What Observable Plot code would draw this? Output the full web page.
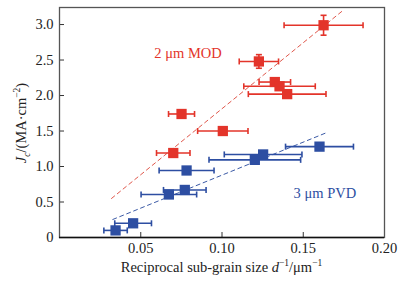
<!DOCTYPE html>
<html><head><meta charset="utf-8">
<script src="https://cdn.jsdelivr.net/npm/d3@7"></script>
<script src="https://cdn.jsdelivr.net/npm/@observablehq/plot@0.6"></script>
<style>body{margin:0;background:#fff;} svg{display:block;}</style>
</head><body><div id="chart"></div>
<script>
// 2 μm MOD (red)
const modX    = [0.1625, 0.1227, 0.1325, 0.1354, 0.1401, 0.1005, 0.0751, 0.0700];
const modY    = [2.99,   2.48,   2.19,   2.13,   2.02,   1.50,   1.74,   1.19];
const modXErr = [0.0243, 0.0121, 0.0097, 0.0220, 0.0239, 0.0155, 0.0080, 0.0103];
const modYErr = [0.14,   0.096,  0,      0,      0,      0,      0,      0];
// 3 μm PVD (blue)
const pvdX    = [0.0345, 0.0453, 0.0673, 0.0771, 0.0782, 0.1202, 0.1253, 0.1600];
const pvdY    = [0.10,   0.20,   0.606,  0.67,   0.944,  1.094,  1.17,   1.28];
const pvdXErr = [0.0072, 0.0113, 0.0171, 0.0131, 0.0169, 0.0282, 0.0239, 0.0209];
// dashed trend lines
const modFitX = [0.032, 0.174];
const modFitY = [0.55, 3.19];
const pvdFitX = [0.0328, 0.1647];
const pvdFitY = [0.254, 1.48];
// ticks
const xTicks = [0.05, 0.10, 0.15, 0.20];
const yTicks = [0, 0.5, 1.0, 1.5, 2.0, 2.5, 3.0];
// annotations
const seriesLabels = ["2 μm MOD", "3 μm PVD"];
const labelX = [0.0791, 0.1633];
const labelY = [2.60, 0.615];

const red = "#e3342a", blue = "#2d4ea2";
const redDash = "#e0584c", blueDash = "#3b5aa6";

const mod = modX.map((x, i) => ({x, y: modY[i], xe: modXErr[i], ye: modYErr[i]}));
const pvd = pvdX.map((x, i) => ({x, y: pvdY[i], xe: pvdXErr[i], ye: 0}));
const modFit = modFitX.map((x, i) => ({x, y: modFitY[i]}));
const pvdFit = pvdFitX.map((x, i) => ({x, y: pvdFitY[i]}));
const labels = seriesLabels.map((t, i) => ({t, x: labelX[i], y: labelY[i], c: i === 0 ? red : blue}));

const capV = {draw(ctx, size) { const h = Math.sqrt(size) / 2; ctx.moveTo(0, -h); ctx.lineTo(0, h); }};
const capH = {draw(ctx, size) { const h = Math.sqrt(size) / 2; ctx.moveTo(-h, 0); ctx.lineTo(h, 0); }};

function errMarks(data, color) {
  const yd = data.filter(d => d.ye > 0);
  return [
    Plot.link(data, {x1: d => d.x - d.xe, x2: d => d.x + d.xe, y1: "y", y2: "y", stroke: color, strokeWidth: 1.6}),
    Plot.dot(data, {x: d => d.x - d.xe, y: "y", symbol: capV, r: 3.4, stroke: color, fill: "none", strokeWidth: 1.6}),
    Plot.dot(data, {x: d => d.x + d.xe, y: "y", symbol: capV, r: 3.4, stroke: color, fill: "none", strokeWidth: 1.6}),
    Plot.link(yd, {x1: "x", x2: "x", y1: d => d.y - d.ye, y2: d => d.y + d.ye, stroke: color, strokeWidth: 1.6}),
    Plot.dot(yd, {x: "x", y: d => d.y - d.ye, symbol: capH, r: 3.4, stroke: color, fill: "none", strokeWidth: 1.6}),
    Plot.dot(yd, {x: "x", y: d => d.y + d.ye, symbol: capH, r: 3.4, stroke: color, fill: "none", strokeWidth: 1.6}),
    Plot.dot(data, {x: "x", y: "y", symbol: "square", r: 5.8, fill: color, stroke: "none"})
  ];
}

const W = 407, H = 282;
const plot = Plot.plot({
  width: W, height: H,
  marginLeft: 59, marginRight: 23, marginTop: 7, marginBottom: 45,
  style: {fontFamily: "'Liberation Serif', 'Times New Roman', serif", fontSize: "14.5px", color: "#222", background: "#fff"},
  x: {domain: [0, 0.2]},
  y: {domain: [0, 3.24]},
  marks: [
    Plot.line(modFit, {x: "x", y: "y", stroke: redDash, strokeWidth: 1, strokeDasharray: "4,3.5"}),
    Plot.line(pvdFit, {x: "x", y: "y", stroke: blueDash, strokeWidth: 1, strokeDasharray: "4,3.5"}),
    ...errMarks(pvd, blue),
    ...errMarks(mod, red),
    Plot.text(labels, {x: "x", y: "y", text: "t", fill: "c", fontSize: 14.5}),
    Plot.tickY(yTicks, {y: d => d, insetRight: 320, stroke: "#333", strokeWidth: 1}),
    Plot.tickX(xTicks, {x: d => d, insetTop: 225, stroke: "#333", strokeWidth: 1}),
    Plot.axisY(yTicks, {tickSize: 0, tickPadding: 6, tickFormat: d => d === 0 ? "0" : d.toFixed(1), label: null, fontSize: 14.5}),
    Plot.axisX(xTicks, {tickSize: 0, tickPadding: 5, tickFormat: d => d.toFixed(2), label: null, fontSize: 14.5}),
    Plot.frame({stroke: "#555", strokeWidth: 1.3}),
    Plot.ruleY([0], {stroke: "#111", strokeWidth: 1.3})
  ]
});
document.getElementById("chart").appendChild(plot);

const svg = d3.select(plot);
const f = "'Liberation Serif', 'Times New Roman', serif";
// x label
const xl = svg.append("text").attr("x", 221.5).attr("y", 272).attr("text-anchor", "middle")
  .attr("font-family", f).attr("font-size", 14.5).attr("fill", "#222");
xl.append("tspan").text("Reciprocal sub-grain size ");
xl.append("tspan").attr("font-style", "italic").text("d");
xl.append("tspan").attr("font-size", 9.5).attr("dy", -6).text("−1");
xl.append("tspan").attr("dy", 6).text("/μm");
xl.append("tspan").attr("font-size", 9.5).attr("dy", -6).text("−1");
// y label
const yl = svg.append("text").attr("transform", "translate(26,123) rotate(-90)").attr("text-anchor", "middle")
  .attr("font-family", f).attr("font-size", 14.5).attr("fill", "#222");
yl.append("tspan").attr("font-style", "italic").text("J");
yl.append("tspan").attr("font-style", "italic").attr("font-size", 9.5).attr("dy", 4).text("c");
yl.append("tspan").attr("dy", -4).text("/(MA·cm");
yl.append("tspan").attr("font-size", 9.5).attr("dy", -6).text("−2");
yl.append("tspan").attr("dy", 6).text(")");
</script>
</body></html>
